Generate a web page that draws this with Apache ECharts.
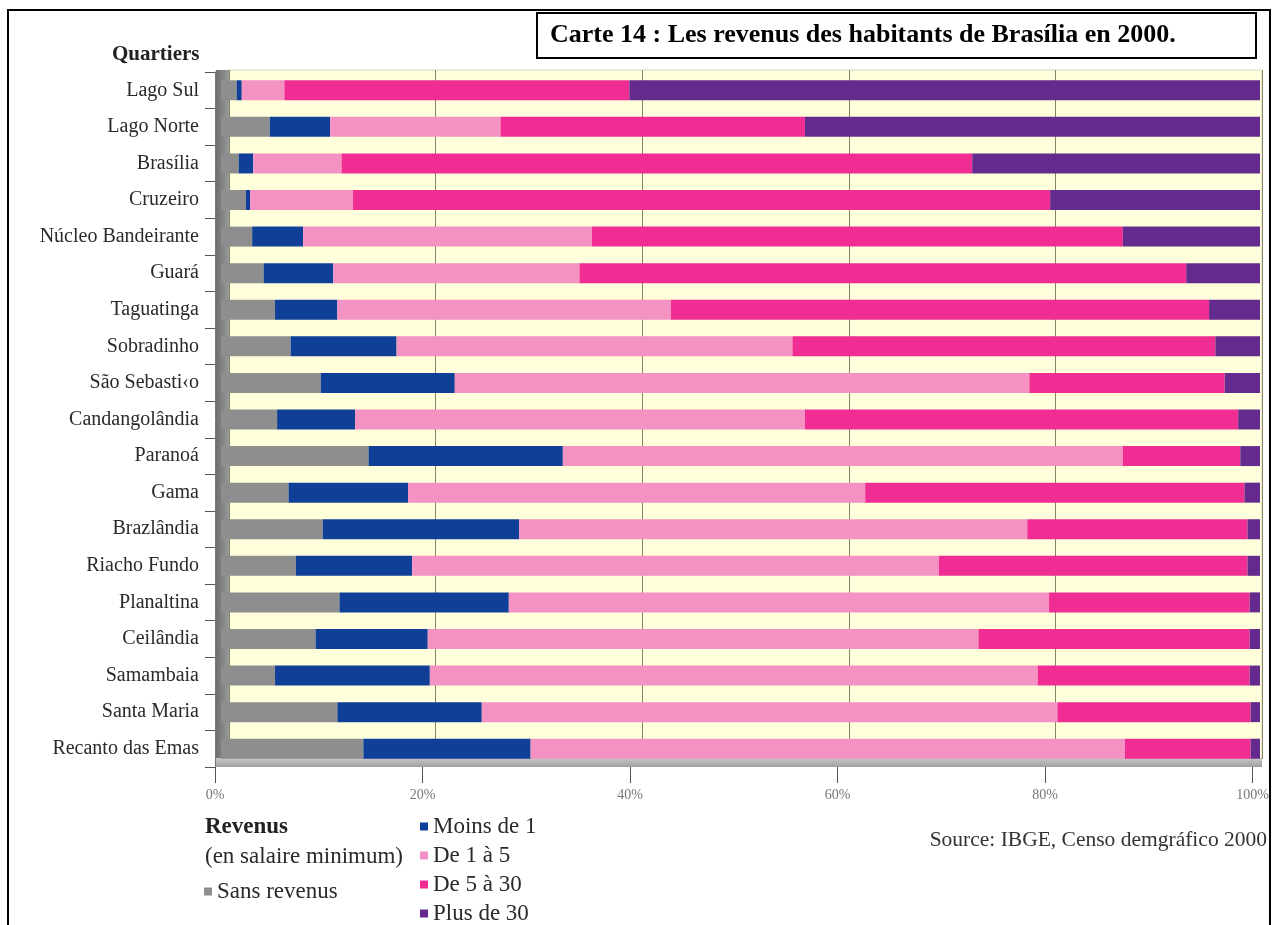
<!DOCTYPE html>
<html><head><meta charset="utf-8">
<script src="https://cdn.jsdelivr.net/npm/echarts@6/dist/echarts.min.js"></script>
<style>html,body{margin:0;padding:0;background:#fff}#c{width:1272px;height:925px}</style>
</head><body><div id="c"></div>
<script>
const categories = ['Lago Sul','Lago Norte','Brasília','Cruzeiro','Núcleo Bandeirante','Guará','Taguatinga','Sobradinho','São Sebasti‹o','Candangolândia','Paranoá','Gama','Brazlândia','Riacho Fundo','Planaltina','Ceilândia','Samambaia','Santa Maria','Recanto das Emas'];
const sansRevenus = [1.5, 4.7, 1.7, 2.4, 3.0, 4.1, 5.2, 6.7, 9.6, 5.4, 14.2, 6.5, 9.8, 7.2, 11.4, 9.1, 5.2, 11.2, 13.7];
const moinsDe1    = [0.5, 5.8, 1.4, 0.4, 4.9, 6.7, 6.0, 10.2, 12.9, 7.5, 18.7, 11.5, 18.9, 11.2, 16.3, 10.8, 14.9, 13.9, 16.1];
const de1a5       = [4.1, 16.4, 8.5, 9.9, 27.8, 23.7, 32.1, 38.1, 55.3, 43.3, 53.9, 44.0, 48.9, 50.7, 52.0, 53.0, 58.5, 55.4, 57.2];
const de5a30      = [33.2, 29.3, 60.7, 67.1, 51.1, 58.4, 51.8, 40.7, 18.8, 41.7, 11.3, 36.5, 21.2, 29.7, 19.3, 26.1, 20.4, 18.6, 12.1];
const plusDe30    = [60.7, 43.8, 27.7, 20.2, 13.2, 7.1, 4.9, 4.3, 3.4, 2.1, 1.9, 1.5, 1.2, 1.2, 1.0, 1.0, 1.0, 0.9, 0.9];
const seriesNames = ['Sans revenus','Moins de 1','De 1 à 5','De 5 à 30','Plus de 30'];
const seriesColors = ['#8e8e8e','#0f3f96','#f592c4','#ef2d93','#652a8d'];
const seriesData = [sansRevenus, moinsDe1, de1a5, de5a30, plusDe30];
const xMin = 0, xMax = 100, xStep = 20;

const FONT = '"Liberation Serif", "DejaVu Serif", serif';
const chart = echarts.init(document.getElementById('c'), null, {renderer: 'canvas'});

const hiddenCat = {type: 'category', inverse: true, data: categories, show: false};

const option = {
  animation: false,
  backgroundColor: '#fff',
  grid: [
    // bars
    {left: 221, right: 12, top: 72, bottom: 158},
    // back wall (yellow + grid lines)
    {left: 229, right: 10, top: 70, bottom: 166, show: true, backgroundColor: '#ffffdc', borderWidth: 1, borderColor: '#d8d8c0', z: -1},
    // front edge (ticks + labels)
    {left: 215, right: 17, top: 72, bottom: 158}
  ],
  xAxis: [
    {gridIndex: 0, type: 'value', min: xMin, max: xMax, interval: xStep, show: false},
    {gridIndex: 1, type: 'value', min: xMin, max: xMax, interval: xStep,
     axisLine: {show: false}, axisTick: {show: false}, axisLabel: {show: false},
     splitLine: {show: true, lineStyle: {color: '#858566', width: 1}}},
    {gridIndex: 2, type: 'value', min: xMin, max: xMax, interval: xStep,
     axisLine: {show: false},
     axisTick: {show: true, length: 16, lineStyle: {color: '#555'}},
     axisLabel: {formatter: '{value}%', fontFamily: FONT, fontSize: 14, color: '#777', margin: 21},
     splitLine: {show: false}}
  ],
  yAxis: [
    {gridIndex: 0, type: 'category', inverse: true, data: categories,
     axisLine: {show: false}, axisTick: {show: false},
     axisLabel: {fontFamily: FONT, fontSize: 20, color: '#2a2a2a', margin: 22},
     splitLine: {show: false}},
    Object.assign({gridIndex: 1}, hiddenCat),
    {gridIndex: 2, type: 'category', inverse: true, data: categories,
     axisLine: {show: true, lineStyle: {color: '#777'}},
     axisTick: {show: true, length: 10, lineStyle: {color: '#555'}},
     axisLabel: {show: false}, splitLine: {show: false}}
  ],
  legend: [
    {data: ['Sans revenus'], left: 204, top: 880, padding: 0, orient: 'vertical', icon: 'rect', itemWidth: 8, itemHeight: 8,
     textStyle: {fontFamily: FONT, fontSize: 23, color: '#2a2a2a', lineHeight: 23}, selectedMode: false},
    {data: ['Moins de 1','De 1 à 5','De 5 à 30','Plus de 30'], left: 420, top: 815, padding: 0, orient: 'vertical', icon: 'rect',
     itemWidth: 8, itemHeight: 8, itemGap: 6, textStyle: {fontFamily: FONT, fontSize: 23, color: '#2a2a2a', lineHeight: 23}, selectedMode: false}
  ],
  series: seriesNames.map((n, i) => ({
    name: n, type: 'bar', stack: 'total', barWidth: 20, xAxisIndex: 0, yAxisIndex: 0,
    itemStyle: {color: seriesColors[i]},
    data: seriesData[i], z: 3
  })),
  graphic: [
    {type: 'rect', shape: {x: 8, y: 10, width: 1262, height: 940}, style: {fill: 'none', stroke: '#000', lineWidth: 2}, z: 10, silent: true},
    {type: 'rect', shape: {x: 216, y: 70, width: 13, height: 697}, style: {fill: new echarts.graphic.LinearGradient(0,0,1,0,[{offset:0,color:'#6e6e6e'},{offset:1,color:'#9a9a9a'}])}, z: 1, silent: true},
    {type: 'rect', shape: {x: 216, y: 758, width: 1046, height: 9}, style: {fill: new echarts.graphic.LinearGradient(0,0,0,1,[{offset:0,color:'#c8c8c8'},{offset:1,color:'#a0a0a0'}])}, z: 1, silent: true},
    {type: 'rect', shape: {x: 537, y: 13, width: 719, height: 45}, style: {fill: '#fff', stroke: '#000', lineWidth: 2}, z: 11, silent: true},
    {type: 'text', x: 550, y: 35, style: {text: 'Carte 14 : Les revenus des habitants de Brasília en 2000.', font: 'bold 26px ' + FONT, fill: '#000', textVerticalAlign: 'middle'}, z: 12, silent: true},
    {type: 'text', x: 112, y: 55, style: {text: 'Quartiers', font: 'bold 21px ' + FONT, fill: '#222', textVerticalAlign: 'middle'}, z: 12, silent: true},
    {type: 'text', x: 205, y: 827, style: {text: 'Revenus', font: 'bold 23px ' + FONT, fill: '#222', textVerticalAlign: 'middle'}, z: 12, silent: true},
    {type: 'text', x: 205, y: 857, style: {text: '(en salaire minimum)', font: '23px ' + FONT, fill: '#2a2a2a', textVerticalAlign: 'middle'}, z: 12, silent: true},
    {type: 'text', x: 1267, y: 840, style: {text: 'Source: IBGE, Censo demgráfico 2000', font: '21.5px ' + FONT, fill: '#333', textAlign: 'right', textVerticalAlign: 'middle'}, z: 12, silent: true}
  ]
};
chart.setOption(option);
</script>
</body></html>
